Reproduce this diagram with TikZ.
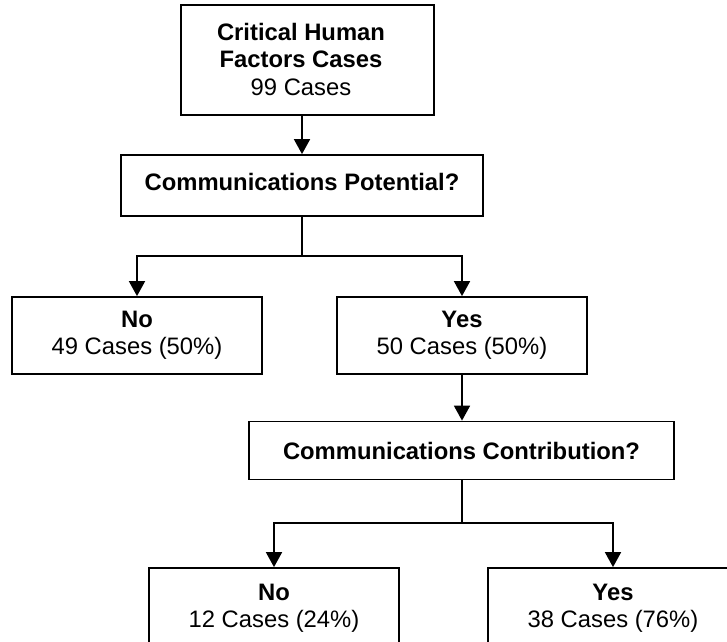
\documentclass[tikz,border=0pt]{standalone}
\usepackage{fontspec}
\setmainfont{Liberation Sans}
\usetikzlibrary{arrows.meta}
\tikzset{
  box/.style={draw, line width=1.8pt, rectangle, align=center, inner sep=0pt,
    font=\fontsize{23.8pt}{27.5pt}\selectfont},
  txt/.style={align=center, inner sep=0pt, font=\fontsize{23.8pt}{27.5pt}\selectfont},
  conn/.style={line width=1.8pt},
  arr/.style={conn, -{Triangle[length=15pt,width=16pt]}}
}
\begin{document}
\begin{tikzpicture}[x=1pt,y=-1pt]
\useasboundingbox (0,0) rectangle (727,641);
\clip (0,0) rectangle (727,641);
\node[box, minimum width=253pt, minimum height=110pt] (top) at (307.5,60) {};
\node[txt] (toptext) at (301,59)
  {\textbf{Critical Human}\\\textbf{Factors Cases}\\99 Cases};
\node[box, minimum width=362pt, minimum height=61pt] (q1) at (302,185.5) {};
\node[txt] (q1text) at (302,182) {\textbf{Communications Potential?}};
\node[box, minimum width=250pt, minimum height=77pt] (no1) at (137,335.5)
  {\textbf{No}\\49 Cases (50\%)};
\node[box, minimum width=250pt, minimum height=77pt] (yes1) at (462,335.5)
  {\textbf{Yes}\\50 Cases (50\%)};
\node[box, minimum width=425pt, minimum height=58pt] (q2) at (461.5,450.5)
  {\textbf{Communications Contribution?}};
\node[box, minimum width=250pt, minimum height=81pt] (no2) at (274,608.5)
  {\textbf{No}\\12 Cases (24\%)};
\node[box, minimum width=250pt, minimum height=81pt] (yes2) at (613,608.5)
  {\textbf{Yes}\\38 Cases (76\%)};
\coordinate (s1) at (302,256);
\coordinate (s2) at (462,523);
\draw[arr] (q1.north |- top.south) -- (q1.north);
\draw[conn] (q1.south) -- (s1);
\draw[arr] (s1) -| (no1.north);
\draw[arr] (s1) -| (yes1.north);
\draw[arr] (yes1.south) -- (yes1.south |- q2.north);
\draw[conn] (yes1.south |- q2.south) -- (s2);
\draw[arr] (s2) -| (no2.north);
\draw[arr] (s2) -| (yes2.north);
\end{tikzpicture}
\end{document}
